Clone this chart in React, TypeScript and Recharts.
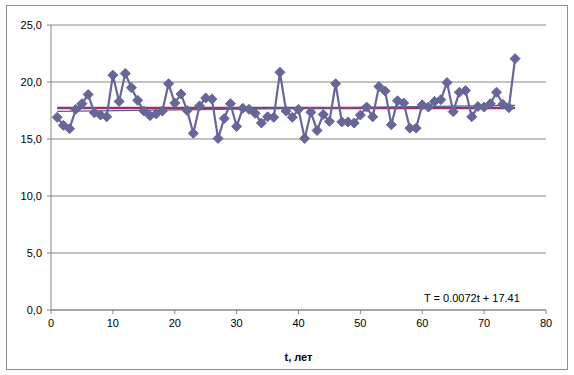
import { LineChart, Line, XAxis, YAxis, CartesianGrid } from 'recharts';

// observed values for t = 1..75
const VALUES = [
  16.9, 16.2, 15.9, 17.6, 18.1, 18.9, 17.3, 17.1, 16.95, 20.6,
  18.3, 20.75, 19.5, 18.4, 17.45, 17.05, 17.2, 17.45, 19.85, 18.15,
  18.95, 17.5, 15.5, 17.9, 18.6, 18.5, 15.05, 16.8, 18.1, 16.1,
  17.7, 17.6, 17.25, 16.4, 16.95, 16.9, 20.85, 17.45, 16.9, 17.6,
  15.05, 17.35, 15.75, 17.15, 16.55, 19.85, 16.5, 16.5, 16.4, 17.1,
  17.8, 16.95, 19.6, 19.2, 16.25, 18.35, 18.15, 15.95, 15.95, 18.0,
  17.8, 18.3, 18.45, 19.95, 17.4, 19.1, 19.25, 16.95, 17.85, 17.8,
  18.1, 19.1, 18.05, 17.75, 22.05,
];
const X_TICKS = [0, 10, 20, 30, 40, 50, 60, 70, 80];
const Y_TICKS = [0, 5, 10, 15, 20, 25];

// trend T = 0.0072t + 17.41, and the mean level
const SLOPE = 0.0072;
const INTERCEPT = 17.41;
const MEAN = 17.72;
const T_FIRST = 1;
const T_LAST = 75;

const data = VALUES.map((v, i) => ({ t: i + 1, v }));
const trendData = [
  { t: T_FIRST, y: SLOPE * T_FIRST + INTERCEPT },
  { t: T_LAST, y: SLOPE * T_LAST + INTERCEPT },
];
const meanData = [
  { t: T_FIRST, y: MEAN },
  { t: T_LAST, y: MEAN },
];

const SERIES = '#666699';
const FONT = '"Liberation Sans", Arial, sans-serif';

const Diamond = (props: any) => {
  const { cx, cy } = props;
  if (cx == null || cy == null) return null;
  const r = 5;
  return (
    <path
      d={`M${cx},${cy - r} L${cx + r},${cy} L${cx},${cy + r} L${cx - r},${cy} Z`}
      fill={SERIES}
      stroke={SERIES}
      strokeWidth={1}
    />
  );
};

const fmt = (v: number) => v.toFixed(1).replace('.', ',');

export default function App() {
  return (
    <div style={{ position: 'absolute', left: 0, top: 0, width: 574, height: 375, background: '#fff', fontFamily: FONT }}>
      <div style={{ position: 'absolute', left: 6, top: 5, width: 560, height: 363, border: '1px solid #8c8c8c' }} />
      <LineChart width={574} height={375} margin={{ top: 25, right: 28, left: 0, bottom: 0 }}>
        <CartesianGrid vertical={false} stroke="#868686" strokeWidth={1} />
        <XAxis
          type="number"
          dataKey="t"
          domain={[0, 80]}
          ticks={X_TICKS}
          allowDuplicatedCategory={false}
          height={65}
          stroke="#868686"
          tickSize={4}
          tickMargin={5}
          tick={{ fill: '#000', fontSize: 11, fontFamily: FONT }}
          label={{ value: 't, лет', position: 'insideBottom', offset: 14, fill: '#000', fontSize: 11, fontWeight: 'bold', fontFamily: FONT }}
        />
        <YAxis
          type="number"
          domain={[0, 25]}
          ticks={Y_TICKS}
          width={51}
          stroke="#868686"
          tickSize={4}
          tickMargin={5}
          tickFormatter={fmt}
          tick={{ fill: '#000', fontSize: 11, fontFamily: FONT }}
        />
        <Line data={meanData} dataKey="y" stroke="#993366" strokeWidth={2.5} dot={false} isAnimationActive={false} />
        <Line data={trendData} dataKey="y" stroke="#5b5ba0" strokeWidth={1.2} dot={false} isAnimationActive={false} />
        <Line data={data} dataKey="v" stroke={SERIES} strokeWidth={2.2} dot={<Diamond />} activeDot={false} isAnimationActive={false} />
      </LineChart>
      <div style={{ position: 'absolute', left: 424, top: 292, fontSize: 11, color: '#000', whiteSpace: 'nowrap' }}>
        T = 0.0072t + 17.41
      </div>
    </div>
  );
}
